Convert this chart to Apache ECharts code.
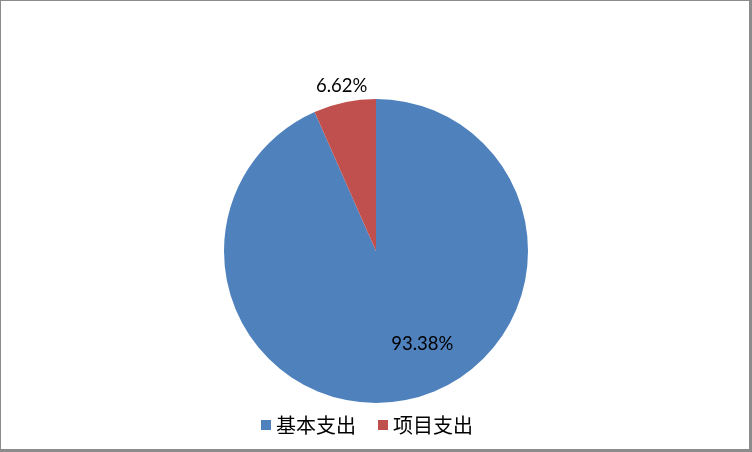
<!doctype html>
<html>
  <head>
    <meta charset="utf-8">
    <script src="https://cdn.jsdelivr.net/npm/echarts@6/dist/echarts.min.js"></script>
    <style>
      html, body { margin:0; padding:0; background:#fff; }
      #wrap { position:relative; width:752px; height:452px; }
      #main { position:absolute; left:0; top:0; width:752px; height:452px; }
      #frame { position:absolute; left:0; top:0; width:752px; height:452px; box-sizing:border-box;
               border-left:1px solid #8c8c8c; border-top:1px solid #8c8c8c;
               border-right:3px solid #8c8c8c; border-bottom:3px solid #8c8c8c; pointer-events:none; }
    </style>
  </head>
  <body>
    <div id="wrap">
      <div id="main"></div>
      <div id="frame"></div>
    </div>
  </body>
  <script>
   var names = ['基本支出', '项目支出'];
   var values = [93.38, 6.62];
   var colors = ['#4F81BD', '#C0504D'];
   // 标签位置偏移
   var labelOffsets = [[30, 16], [-18, -88]];

   var chart = echarts.init(document.getElementById('main'));
   var data = [];
   for (var i = 0; i < names.length; i++) {
     data.push({
       name: names[i],
       value: values[i],
       itemStyle: { color: colors[i] },
       label: { offset: labelOffsets[i] }
     });
   }
   var option = {
     animation: false,
     legend: {
       data: names,
       left: 256,
       top: 410,
       icon: 'rect',
       itemWidth: 10,
       itemHeight: 10,
       itemGap: 22,
       textStyle: { fontFamily: 'Noto Sans CJK SC', fontSize: 20, color: '#000' }
     },
     series: [{
       type: 'pie',
       center: [376, 251],
       radius: 152,
       startAngle: 90,
       clockwise: true,
       label: {
         show: true,
         position: 'inside',
         formatter: function (p) { return p.value.toFixed(2) + '%'; },
         fontFamily: 'Lato',
         fontSize: 18.5,
         color: '#000'
       },
       labelLine: { show: false },
       emphasis: { disabled: true },
       data: data
     }]
   };
   chart.setOption(option);
  </script>
</html>
